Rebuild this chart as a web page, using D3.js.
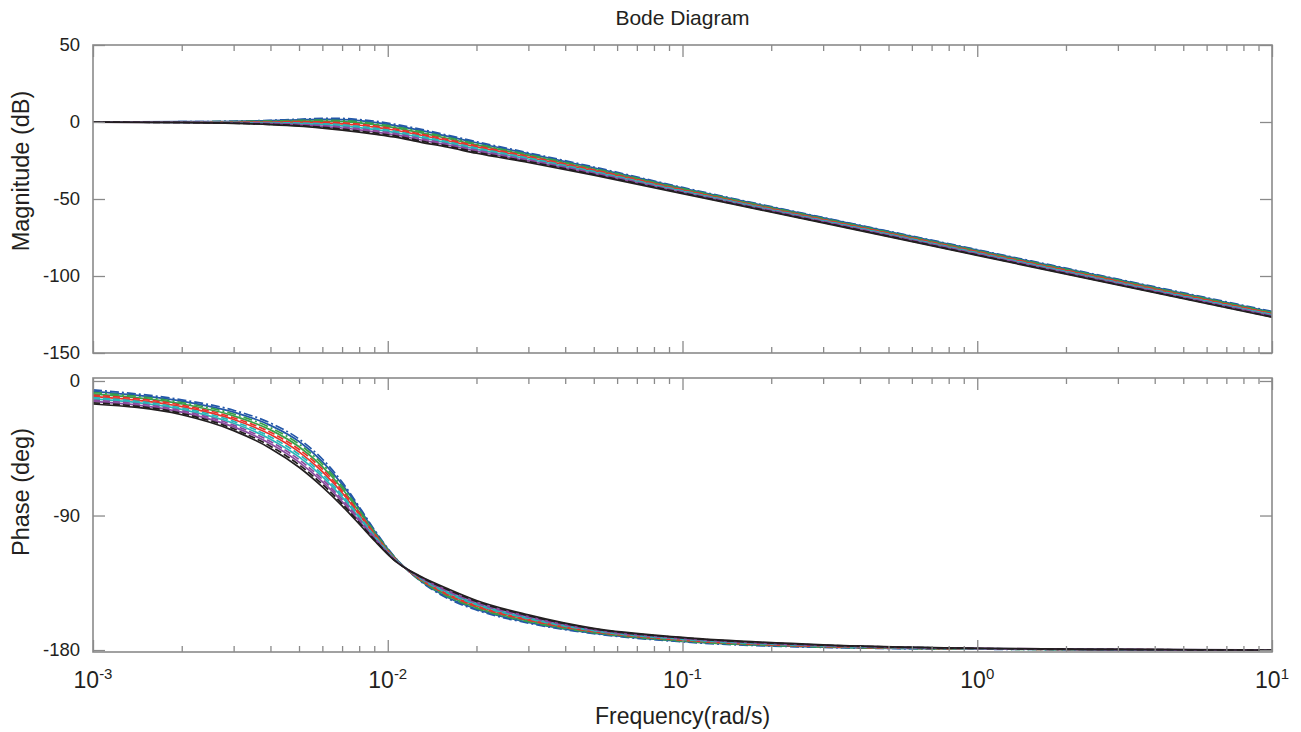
<!DOCTYPE html>
<html>
<head>
<meta charset="utf-8">
<script src="https://cdn.jsdelivr.net/npm/d3@7"></script>
<style>
body { margin: 0; background: #fff; }
text { font-family: "Liberation Sans", Arial, sans-serif; fill: #231f20; }
</style>
</head>
<body>
<script>
// frequency grid (rad/s)
var freq = [0.001, 0.002, 0.003, 0.004, 0.005, 0.006, 0.007, 0.008, 0.009, 0.0105, 0.013, 0.016, 0.02, 0.03, 0.05, 0.1, 0.3, 1, 3, 10];

// magnitude (dB)
var magBlueDD     = [0.0, 0.2, 0.5, 1.1, 1.8, 2.3, 2.3, 1.6, 0.6, -1.4, -4.8, -8.6, -12.8, -20.0, -29.2, -42.5, -62.0, -82.9, -102.0, -123.0];
var magBlue       = [0.0, 0.2, 0.4, 0.9, 1.4, 1.7, 1.6, 0.9, -0.2, -2.2, -5.6, -9.3, -13.5, -20.6, -29.7, -42.9, -62.3, -83.2, -102.4, -123.4];
var magGreenDD    = [0.0, 0.1, 0.3, 0.6, 1.0, 1.2, 0.9, 0.1, -1.0, -2.9, -6.3, -10.0, -14.2, -21.2, -30.2, -43.2, -62.6, -83.6, -102.7, -123.7];
var magGreen      = [0.0, 0.0, 0.1, 0.3, 0.6, 0.6, 0.2, -0.6, -1.7, -3.7, -7.1, -10.7, -14.9, -21.7, -30.7, -43.6, -63.0, -83.9, -103.0, -124.0];
var magRedDash    = [0.0, 0.0, 0.0, 0.1, 0.2, 0.0, -0.5, -1.4, -2.5, -4.4, -7.9, -11.4, -15.5, -22.3, -31.1, -44.0, -63.3, -84.2, -103.4, -124.4];
var magRed        = [0.0, -0.1, -0.1, -0.2, -0.2, -0.6, -1.2, -2.1, -3.3, -5.2, -8.6, -12.2, -16.2, -22.9, -31.6, -44.3, -63.6, -84.6, -103.7, -124.7];
var magCyanDash   = [0.0, -0.1, -0.3, -0.4, -0.7, -1.1, -1.8, -2.9, -4.0, -5.9, -9.4, -12.9, -16.9, -23.4, -32.1, -44.7, -63.9, -84.9, -104.1, -125.1];
var magCyan       = [0.0, -0.2, -0.4, -0.7, -1.1, -1.7, -2.5, -3.6, -4.8, -6.7, -10.1, -13.6, -17.6, -24.0, -32.6, -45.0, -64.2, -85.3, -104.4, -125.4];
var magPurpleDash = [-0.1, -0.2, -0.5, -0.9, -1.5, -2.3, -3.2, -4.4, -5.6, -7.4, -10.9, -14.3, -18.3, -24.6, -33.1, -45.4, -64.5, -85.6, -104.8, -125.8];
var magPurple     = [-0.1, -0.3, -0.7, -1.2, -1.9, -2.9, -3.9, -5.1, -6.4, -8.2, -11.7, -15.0, -18.9, -25.2, -33.5, -45.8, -64.9, -85.9, -105.1, -126.1];
var magBlackDash  = [-0.1, -0.3, -0.8, -1.5, -2.3, -3.4, -4.6, -5.9, -7.1, -8.9, -12.4, -15.7, -19.6, -25.7, -34.0, -46.1, -65.2, -86.3, -105.5, -126.5];
var magBlack      = [-0.1, -0.4, -0.9, -1.7, -2.7, -4.0, -5.3, -6.6, -7.9, -9.7, -13.2, -16.4, -20.3, -26.3, -34.5, -46.5, -65.5, -86.6, -105.8, -126.8];

// phase (deg)
var phBlueDD     = [-6.0, -12.6, -19.6, -28.1, -38.8, -52.2, -67.6, -84.1, -99.4, -117.2, -134.4, -145.5, -153.2, -162.0, -169.0, -174.5, -178.2, -179.4, -179.8, -180.0];
var phBlue       = [-6.9, -13.5, -20.8, -29.7, -40.5, -53.9, -69.1, -85.2, -100.1, -117.4, -134.1, -144.9, -152.6, -161.5, -168.7, -174.2, -178.0, -179.3, -179.8, -180.0];
var phGreenDD    = [-7.7, -14.4, -22.1, -31.2, -42.2, -55.6, -70.5, -86.2, -100.7, -117.7, -133.8, -144.3, -152.0, -161.0, -168.4, -174.0, -177.9, -179.3, -179.8, -180.0];
var phGreen      = [-8.6, -15.3, -23.3, -32.7, -44.0, -57.3, -71.9, -87.3, -101.4, -117.9, -133.5, -143.7, -151.5, -160.5, -168.0, -173.7, -177.7, -179.2, -179.7, -180.0];
var phRedDash    = [-9.4, -16.2, -24.6, -34.3, -45.7, -59.0, -73.4, -88.3, -102.1, -118.2, -133.2, -143.1, -150.9, -160.0, -167.7, -173.4, -177.6, -179.2, -179.7, -180.0];
var phRed        = [-10.3, -17.2, -25.8, -35.8, -47.4, -60.7, -74.8, -89.4, -102.7, -118.4, -132.9, -142.5, -150.3, -159.5, -167.4, -173.1, -177.4, -179.1, -179.7, -180.0];
var phCyanDash   = [-11.1, -18.1, -27.0, -37.4, -49.1, -62.4, -76.3, -90.4, -103.4, -118.6, -132.5, -142.0, -149.7, -159.0, -167.1, -172.9, -177.3, -179.1, -179.7, -180.0];
var phCyan       = [-12.0, -19.0, -28.3, -38.9, -50.8, -64.0, -77.7, -91.5, -104.1, -118.9, -132.2, -141.4, -149.1, -158.5, -166.8, -172.6, -177.1, -179.0, -179.7, -180.0];
var phPurpleDash = [-12.8, -19.9, -29.5, -40.5, -52.6, -65.7, -79.2, -92.5, -104.7, -119.1, -131.9, -140.8, -148.5, -158.0, -166.5, -172.3, -177.0, -179.0, -179.7, -180.0];
var phPurple     = [-13.7, -20.8, -30.7, -42.0, -54.3, -67.4, -80.6, -93.6, -105.4, -119.3, -131.6, -140.2, -148.0, -157.5, -166.1, -172.0, -176.8, -178.9, -179.6, -180.0];
var phBlackDash  = [-14.6, -21.7, -32.0, -43.6, -56.0, -69.1, -82.1, -94.7, -106.0, -119.6, -131.3, -139.6, -147.4, -157.0, -165.8, -171.8, -176.7, -178.9, -179.6, -180.0];
var phBlack      = [-15.4, -22.6, -33.2, -45.1, -57.7, -70.8, -83.5, -95.7, -106.7, -119.8, -131.0, -139.0, -146.8, -156.5, -165.5, -171.5, -176.5, -178.8, -179.6, -180.0];

// ticks
var magTicks = [-150, -100, -50, 0, 50];
var phaseTicks = [-180, -90, 0];
var decades = [1e-3, 1e-2, 1e-1, 1, 10];
var decadeExp = ["-3", "-2", "-1", "0", "1"];

var magSeries = [magBlueDD, magBlue, magGreenDD, magGreen, magRedDash, magRed,
                 magCyanDash, magCyan, magPurpleDash, magPurple, magBlackDash, magBlack];
var phSeries = [phBlueDD, phBlue, phGreenDD, phGreen, phRedDash, phRed,
                phCyanDash, phCyan, phPurpleDash, phPurple, phBlackDash, phBlack];

var seriesColor = ["#2357a8", "#2357a8", "#37a04a", "#37a04a", "#e8322b", "#e8322b",
                   "#27b5b8", "#27b5b8", "#8a4a9e", "#8a4a9e", "#231f20", "#231f20"];
var seriesDash = ["9,3,2,3", null, "9,3,2,3", null, "7,3", null,
                  "7,3", null, "7,3", null, "7,3", null];

var left = 93, right = 1272;
var frameColor = "#8a8a8a";

var svg = d3.select("body").append("svg")
    .attr("width", 1301)
    .attr("height", 732);

var x = d3.scaleLog().domain([1e-3, 10]).range([left, right]);

var minorTicks = [];
decades.slice(0, 4).forEach(function(d) {
    for (var k = 2; k < 10; k++) minorTicks.push(d * k);
});

var drawPanel = function(top, bottom, y, yTicks, values, id) {
    var g = svg.append("g");

    g.append("clipPath").attr("id", id)
        .append("rect")
        .attr("x", left).attr("y", top)
        .attr("width", right - left).attr("height", bottom - top);

    var line = d3.line()
        .x(function(d) { return x(d[0]); })
        .y(function(d) { return y(d[1]); })
        .curve(d3.curveMonotoneX);

    g.append("g").attr("clip-path", "url(#" + id + ")")
        .selectAll("path")
        .data(values)
        .enter().append("path")
        .attr("d", function(v) {
            return line(freq.map(function(f, j) { return [f, v[j]]; }));
        })
        .attr("fill", "none")
        .attr("stroke", function(v, i) { return seriesColor[i]; })
        .attr("stroke-dasharray", function(v, i) { return seriesDash[i]; })
        .attr("stroke-width", 1.7);

    var axes = [
        d3.axisLeft(y).tickValues(yTicks).tickSize(-12).tickPadding(13)
            .tickFormat(function(d) { return String(d); }),
        d3.axisRight(y).tickValues(yTicks).tickSize(-12).tickFormat(""),
        d3.axisTop(x).tickValues(decades).tickSize(-12).tickFormat(""),
        d3.axisBottom(x).tickValues(decades).tickSize(-12).tickFormat(""),
        d3.axisTop(x).tickValues(minorTicks).tickSize(-6).tickFormat(""),
        d3.axisBottom(x).tickValues(minorTicks).tickSize(-6).tickFormat("")
    ];
    var pos = [[left, 0], [right, 0], [0, top], [0, bottom], [0, top], [0, bottom]];
    axes.forEach(function(a, i) {
        var ag = g.append("g")
            .attr("transform", "translate(" + pos[i][0] + "," + pos[i][1] + ")")
            .call(a);
        ag.select(".domain").remove();
        ag.selectAll("line").attr("stroke", frameColor).attr("stroke-width", 1.3);
        ag.selectAll("text")
            .style("font-size", "18.5px")
            .style("font-family", "'Liberation Sans', Arial, sans-serif")
            .attr("fill", "#231f20");
    });

    g.append("rect")
        .attr("x", left).attr("y", top)
        .attr("width", right - left).attr("height", bottom - top)
        .attr("fill", "none")
        .attr("stroke", frameColor)
        .attr("stroke-width", 1.6);
};

var yMag = d3.scaleLinear().domain([-150, 50]).range([353, 45]);
var yPh = d3.scaleLinear().domain([-181.3, 2]).range([652, 378]);

drawPanel(45, 353, yMag, magTicks, magSeries, "clipMag");
drawPanel(378, 652, yPh, phaseTicks, phSeries, "clipPh");

// x tick labels 10^n
var xl = svg.selectAll(".xlab")
    .data(decades)
    .enter().append("text")
    .attr("class", "xlab")
    .attr("x", function(d) { return x(d); })
    .attr("y", 688)
    .attr("text-anchor", "middle")
    .style("font-size", "23px");
xl.append("tspan").text("10");
xl.append("tspan")
    .attr("dy", -9)
    .style("font-size", "15px")
    .text(function(d, i) { return decadeExp[i]; });

svg.append("text")
    .attr("x", (left + right) / 2)
    .attr("y", 25)
    .attr("text-anchor", "middle")
    .style("font-size", "21px")
    .text("Bode Diagram");

svg.append("text")
    .attr("x", (left + right) / 2)
    .attr("y", 724)
    .attr("text-anchor", "middle")
    .style("font-size", "23px")
    .text("Frequency(rad/s)");

svg.append("text")
    .attr("transform", "translate(29,171) rotate(-90)")
    .attr("text-anchor", "middle")
    .style("font-size", "23.5px")
    .text("Magnitude (dB)");

svg.append("text")
    .attr("transform", "translate(29,492) rotate(-90)")
    .attr("text-anchor", "middle")
    .style("font-size", "23.5px")
    .text("Phase (deg)");
</script>
</body>
</html>
